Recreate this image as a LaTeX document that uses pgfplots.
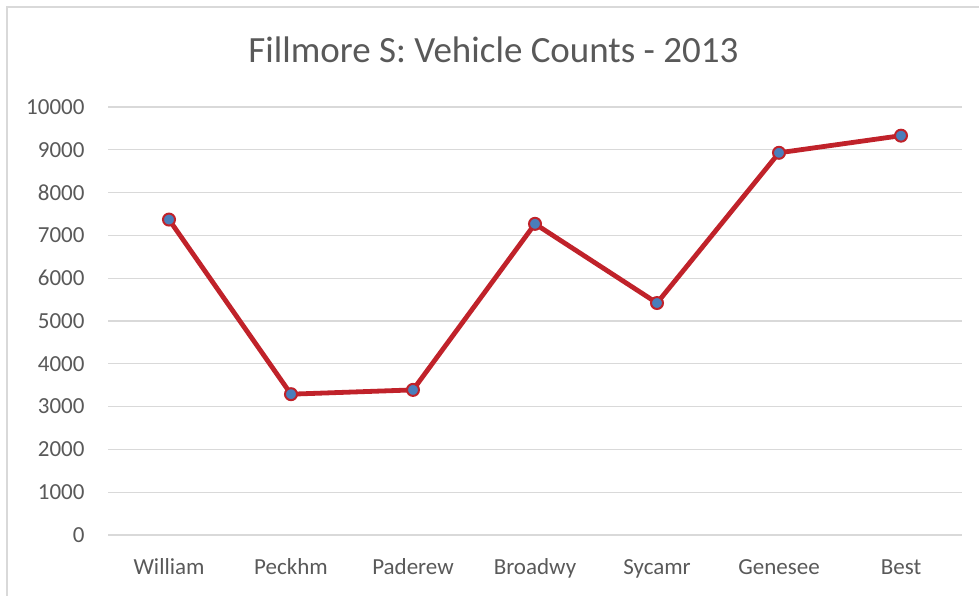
\documentclass[border=0pt]{standalone}
\usepackage{pgfplots}
\pgfplotsset{compat=1.18}
\usepackage{fontspec}
\setmainfont{Carlito}
\definecolor{txt}{HTML}{595959}
\definecolor{gridc}{HTML}{D9D9D9}
\definecolor{lred}{HTML}{C0222A}
\definecolor{mblue}{HTML}{4A7EBB}
\begin{document}
\begin{tikzpicture}
\path[use as bounding box] (0,0) rectangle (979bp,596bp);
\draw[gridc, line width=2bp] (7bp,0bp) -- (7bp,589bp) -- (979bp,589bp);
\node[text=txt, anchor=base, inner sep=0pt, font=\fontsize{37bp}{42bp}\selectfont] at (493.5bp,533bp) {Fillmore S: Vehicle Counts - 2013};
\begin{axis}[
  at={(108bp,61bp)}, anchor=south west,
  scale only axis, width=854bp, height=428bp,
  xmin=-0.5, xmax=6.5, ymin=0, ymax=10000,
  xtick={0,1,2,3,4,5,6},
  xticklabels={William,Peckhm,Paderew,Broadwy,Sycamr,Genesee,Best},
  ytick={0,1000,...,10000},
  scaled y ticks=false,
  ymajorgrids, xmajorgrids=false,
  major grid style={draw=gridc, line width=1.2bp},
  axis line style={draw=none},
  tick style={draw=none},
  /pgf/number format/assume math mode=true,
  /pgf/number format/1000 sep={},
  /pgf/number format/fixed,
  ticklabel style={text=txt, font=\fontsize{23bp}{27bp}\selectfont},
  yticklabel style={anchor=east, xshift=-20bp},
  xticklabel style={anchor=base, yshift=-40bp},
  clip=false,
]
\addplot[lred, line width=4.8bp, mark=*, mark size=6bp,
  mark options={fill=mblue, draw=lred, line width=2bp}]
  coordinates {(0,7370) (1,3290) (2,3390) (3,7270) (4,5420) (5,8930) (6,9330)};
\end{axis}
\end{tikzpicture}
\end{document}
